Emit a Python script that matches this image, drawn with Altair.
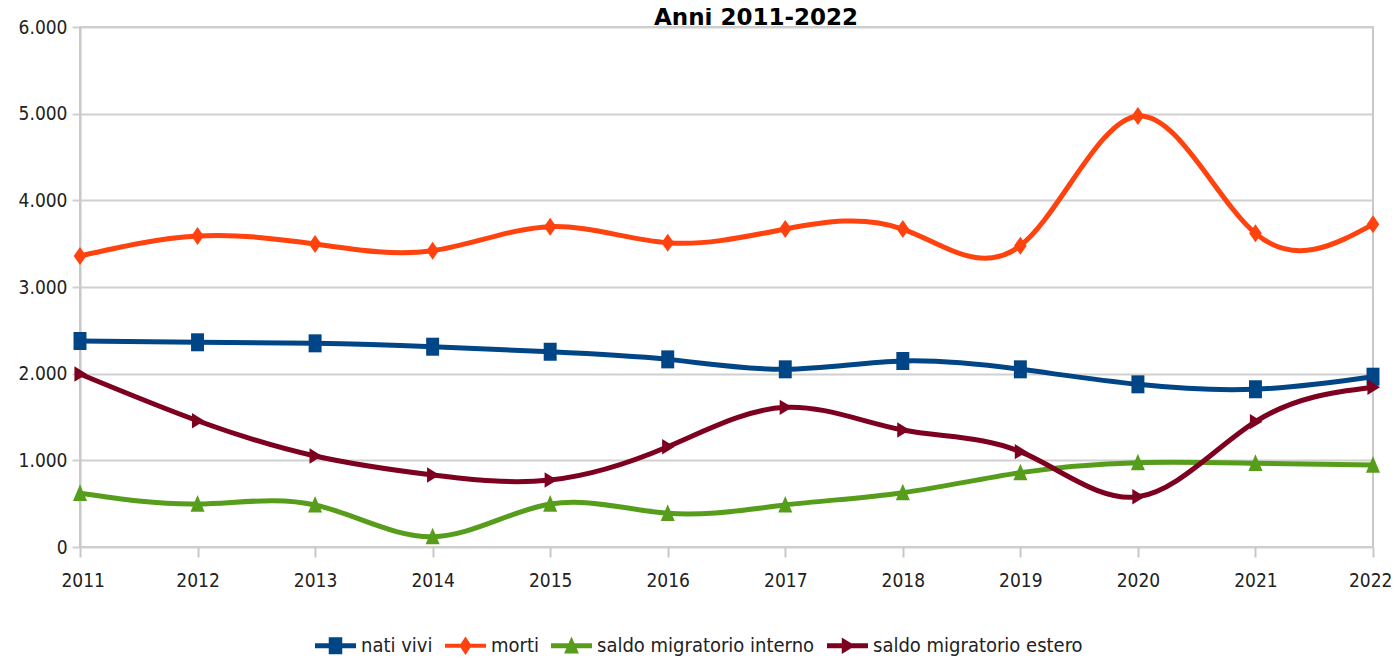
import altair as alt
import pandas as pd

years = list(range(2011, 2023))
series_names = ["nati vivi", "morti", "saldo migratorio interno", "saldo migratorio estero"]
colors = ["#004586", "#ff420e", "#579d1c", "#7e0021"]

nati_vivi = [2377, 2362, 2350, 2311, 2253, 2165, 2050, 2146, 2050, 1877, 1820, 1965]
morti = [3358, 3588, 3496, 3419, 3696, 3511, 3669, 3669, 3477, 4973, 3619, 3723]
saldo_interno = [620, 496, 485, 119, 496, 389, 485, 627, 858, 973, 965, 946]
saldo_estero = [1996, 1457, 1050, 831, 773, 1157, 1612, 1350, 1100, 580, 1446, 1843]

y_ticks = [0, 1000, 2000, 3000, 4000, 5000, 6000]
title_text = "Anni 2011-2022"

# marker paths (plot) and legend paths (line + marker)
marker_paths = [
    "M-0.72,-1H0.72V1H-0.72Z",
    "M0,-1L0.7,0L0,1L-0.7,0Z",
    "M0,-1L0.78,0.85L-0.78,0.85Z",
    "M-0.62,-0.85L0.78,0L-0.62,0.85Z",
]
legend_paths = [
    "M-1,-0.12H1V0.12H-1Z M-0.33,-0.42H0.33V0.42H-0.33Z",
    "M-1,-0.1H1V0.1H-1Z M0,-0.45L0.3,0L0,0.45L-0.3,0Z",
    "M-1,-0.12H1V0.12H-1Z M0,-0.45L0.36,0.38L-0.36,0.38Z",
    "M-1,-0.12H1V0.12H-1Z M-0.28,-0.4L0.38,0L-0.28,0.4Z",
]

values = [nati_vivi, morti, saldo_interno, saldo_estero]
rows = []
for name, vals in zip(series_names, values):
    for yr, v in zip(years, vals):
        rows.append({"anno": yr, "valore": v, "serie": name})
df = pd.DataFrame(rows)

FONT = "DejaVu Sans Condensed, DejaVu Sans, sans-serif"
TXT = "#222222"

def cscale():
    return alt.Scale(domain=series_names, range=colors)

x_enc = alt.X("anno:Q", scale=alt.Scale(domain=[2011, 2022], nice=False, zero=False),
              axis=alt.Axis(values=years, format="d", title=None, grid=False,
                            domain=False, tickColor="#c8c8c8", tickSize=10, tickWidth=2,
                            labelPadding=14, labelFontSize=19, labelFont=FONT,
                            labelColor=TXT, labelFlush=True, labelFlushOffset=19))
y_enc = alt.Y("valore:Q", scale=alt.Scale(domain=[0, 6000], nice=False),
              axis=alt.Axis(values=y_ticks, title=None, grid=True, gridColor="#d0d0d0",
                            gridWidth=2, domainColor="#c8c8c8", domainWidth=2,
                            tickColor="#d0d0d0", tickSize=8, tickWidth=2, labelPadding=5,
                            labelFontSize=19, labelFont=FONT, labelColor=TXT,
                            labelExpr="replace(format(datum.value, ',d'), ',', '.')"))

base = alt.Chart(df)

leg = dict(title=None, orient="none", legendX=235, legendY=598, direction="horizontal",
           labelFont=FONT, labelFontSize=20, labelColor=TXT, labelLimit=400,
           labelOffset=5, columnPadding=12, symbolSize=1681, symbolOpacity=1,
           symbolStrokeWidth=0)

legend_layer = base.mark_point(filled=True, opacity=0, size=1).encode(
    x=x_enc, y=y_enc,
    color=alt.Color("serie:N", scale=cscale(), legend=alt.Legend(**leg)),
    shape=alt.Shape("serie:N", scale=alt.Scale(domain=series_names, range=legend_paths),
                    legend=alt.Legend(**leg)),
)

lines = base.mark_line(interpolate="natural", strokeWidth=5).encode(
    x="anno:Q", y="valore:Q",
    color=alt.Color("serie:N", scale=cscale(), legend=None),
    detail="serie:N",
)

point_layers = []
for name, path in zip(series_names, marker_paths):
    point_layers.append(
        base.transform_filter(alt.datum.serie == name)
        .mark_point(filled=True, opacity=1, size=324, shape=path, strokeWidth=0)
        .encode(x="anno:Q", y="valore:Q",
                color=alt.Color("serie:N", scale=cscale(), legend=None))
    )

title_layer = alt.Chart(pd.DataFrame({"t": [title_text]})).mark_text(
    align="center", baseline="alphabetic", fontSize=23, fontWeight="bold",
    font="DejaVu Sans, sans-serif", color="#000000",
).encode(text="t:N", x=alt.value(676), y=alt.value(-2))

chart = alt.layer(legend_layer, lines, *point_layers, title_layer).resolve_scale(
    color="independent", shape="independent"
).properties(
    width=1293, height=520,
    autosize=alt.AutoSizeParams(type="none"),
    padding={"left": 72, "top": 19, "right": 19, "bottom": 110},
).configure_view(stroke="#c8c8c8", strokeWidth=2)

chart.save("out.html", embed_options={"renderer": "svg", "actions": False})
